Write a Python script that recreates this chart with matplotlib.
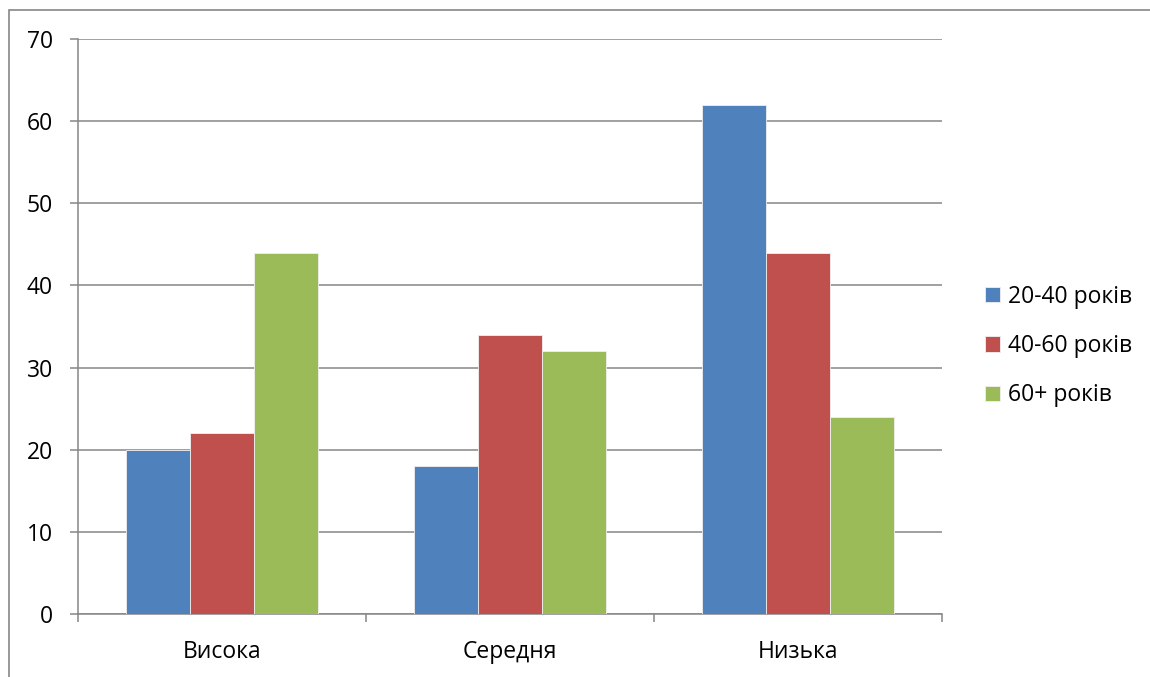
import numpy as np
import matplotlib.pyplot as plt
from matplotlib.patches import Rectangle

plt.rcParams['font.family'] = ['Open Sans', 'DejaVu Sans']

categories = ['Висока', 'Середня', 'Низька']
series_names = ['20-40 років', '40-60 років', '60+ років']
v_20_40 = [20, 18, 62]
v_40_60 = [22, 34, 44]
v_60 = [44, 32, 24]
colors = ['#4F81BD', '#C0504D', '#9BBB59']

grid_c = '#868686'
fs = 16.5

fig = plt.figure(figsize=(11.5, 6.77), dpi=100)
ax = fig.add_axes([78 / 1150, 1 - 614 / 677, (942 - 78) / 1150, (614 - 39) / 677])

x = np.arange(len(categories))
w = 0.222
for i, (vals, name) in enumerate(zip([v_20_40, v_40_60, v_60], series_names)):
    ax.bar(x + (i - 1) * w, vals, w, color=colors[i], label=name,
           edgecolor='#f0f0f0', linewidth=0.6, zorder=3)

ax.set_xlim(-0.5, 2.5)
ax.set_ylim(0, 70)
ax.set_yticks(range(0, 71, 10))
ax.yaxis.grid(True, color=grid_c, linewidth=1.1, zorder=0)
ax.set_axisbelow(True)

ax.set_xticks(x)
ax.set_xticklabels(categories)
ax.set_xticks([-0.5, 0.5, 1.5, 2.5], minor=True)
ax.tick_params(axis='x', which='major', length=0, pad=19, labelsize=fs)
ax.tick_params(axis='x', which='minor', length=6, width=1.1, color=grid_c)
ax.tick_params(axis='y', length=6, width=1.1, color=grid_c, pad=12, labelsize=fs)

for s in ['top', 'right']:
    ax.spines[s].set_visible(False)
for s in ['left', 'bottom']:
    ax.spines[s].set_color(grid_c)
    ax.spines[s].set_linewidth(1.1)

fig.legend(loc='center left', bbox_to_anchor=(964 / 1150, 1 - 346 / 677),
           frameon=False, fontsize=fs, handlelength=0.65, handleheight=0.65,
           handletextpad=0.35, labelspacing=1.1)

# outer chart frame
fig.patches.append(Rectangle((9 / 1150, -0.05), 1.1, 1 - 10 / 677 + 0.05,
                             transform=fig.transFigure, fill=False,
                             edgecolor=grid_c, linewidth=1.2))

fig.savefig('out.png', dpi=100)
